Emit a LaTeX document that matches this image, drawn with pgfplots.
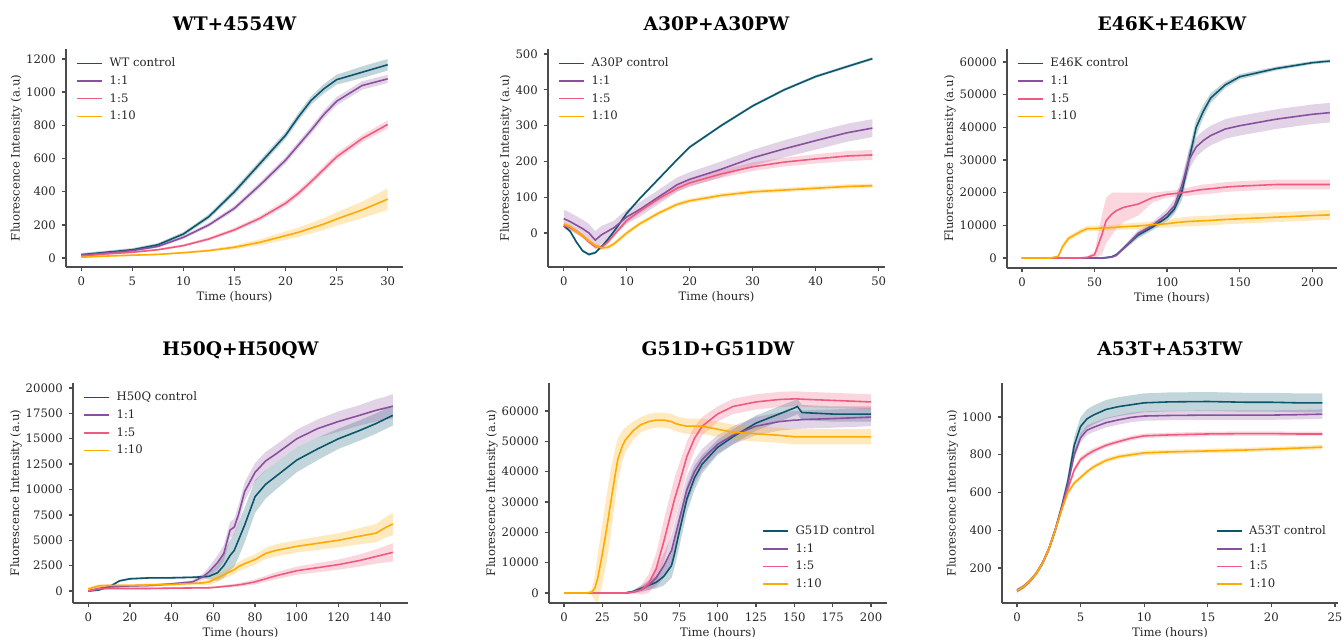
\documentclass[border=0pt]{standalone}
\usepackage{fontspec}
\setmainfont{DejaVu Serif}
\usepackage{pgfplots}
\pgfplotsset{compat=1.18}
\usepackage{pgfplotstable}
\usepgfplotslibrary{fillbetween}

\definecolor{cc}{HTML}{0B566C}
\definecolor{ca}{HTML}{8A4F9E}
\definecolor{cb}{HTML}{EE5A80}
\definecolor{cd}{HTML}{FFAA00}

% t, mean and half-width of the band for control (c), 1:1 (a), 1:5 (b), 1:10 (d)
\pgfplotstableread{
t c ce a ae b be d de
0 20 10 18 8 12 6 5 5
2.5 35 10 30 8 25 6 12 5
5 50 10 45 8 35 6 17 5
7.5 80 10 70 8 50 6 22 5
10 145 12 125 10 75 8 32 6
12.5 250 15 200 12 115 10 45 8
15 400 18 300 15 170 12 65 12
17.5 570 20 440 18 240 15 95 18
20 740 22 590 20 330 18 135 25
21.25 850 24 680 21 390 19 155 28
22.5 950 25 770 22 460 20 180 32
23.75 1020 28 865 24 535 21 205 36
25 1075 30 945 25 610 22 235 40
27.5 1120 35 1040 25 720 22 290 50
30 1165 35 1080 25 805 25 355 65
}\wt

\pgfplotstableread{
t c ce a ae b be d de
0 20 4 40 25 20 6 25 6
1 5 4 32 25 15 6 18 6
2 -25 4 22 25 5 6 5 6
3 -50 4 12 25 -8 6 -8 6
4 -60 4 0 25 -25 6 -22 6
5 -55 4 -20 25 -38 6 -35 6
6 -38 4 -5 25 -40 6 -42 6
7 -18 4 5 22 -25 6 -40 6
8 5 4 15 20 -5 6 -30 6
9 30 4 30 20 15 6 -15 6
10 55 4 45 20 35 6 0 6
12 95 4 65 20 60 7 25 6
15 150 4 100 20 95 8 55 6
18 205 4 135 20 125 9 80 6
20 240 4 150 20 140 10 90 6
25 300 4 178 22 165 11 105 6
30 355 4 210 22 185 12 115 6
35 400 4 235 24 198 12 120 6
40 437 4 258 25 207 13 125 6
45 465 4 280 25 215 14 130 6
49 487 4 293 25 218 14 132 6
}\apt

\pgfplotstableread{
t c ce a ae b be d de
0 0 300 0 300 0 300 0 300
20 0 300 0 300 0 300 0 300
25 0 300 0 300 0 300 500 500
28 0 300 0 300 0 300 3500 800
32 0 300 0 300 0 300 6000 800
36 0 300 0 300 0 300 7000 800
40 0 300 0 300 0 300 8000 800
45 0 300 0 300 200 300 9000 800
50 0 300 0 300 1000 1000 9000 800
55 0 300 0 300 7000 6000 9200 800
58 100 300 100 300 11500 7000 9200 800
62 400 300 300 300 13500 6500 9300 800
65 1000 400 800 400 14500 5500 9400 800
70 3000 600 3000 600 15500 4500 9600 900
80 7000 1000 7500 1000 16500 3500 9800 1000
90 9500 1000 10000 1000 18500 1500 10200 1000
100 12500 1200 13500 1500 19500 1000 10500 1200
105 15000 1500 16000 2000 19700 1000 10800 1300
110 20000 2500 22000 2500 20000 1200 11000 1400
115 30000 3000 30000 3000 20300 1300 11200 1500
120 40000 2500 34000 3000 20700 1400 11300 1500
125 45000 2000 36000 3000 21000 1500 11400 1500
130 49000 1500 37500 3000 21200 1500 11500 1500
140 53000 1000 39500 3000 21700 1500 11800 1500
150 55500 800 40500 3000 22000 1500 12000 1500
175 58000 600 42500 3000 22500 1500 12500 1500
200 59800 500 44000 3000 22500 1500 13000 1500
212 60300 500 44500 3000 22500 1500 13200 1500
}\ekt

\pgfplotstableread{
t c ce a ae b be d de
0 0 100 0 100 0 100 200 150
5 100 100 250 100 200 100 500 150
10 400 100 400 100 250 100 550 150
15 1000 100 450 100 250 100 550 150
20 1200 100 500 100 250 100 550 150
30 1300 100 550 100 250 100 600 150
40 1300 100 700 100 280 100 650 150
50 1350 100 900 150 300 100 750 150
55 1400 150 1400 300 300 100 800 200
58 1450 300 1900 500 320 100 900 300
62 1800 800 2800 700 380 100 1300 400
65 2500 1200 3700 800 450 120 1600 400
68 3500 1500 6000 800 500 150 1900 400
70 4000 1600 6300 800 550 150 2100 450
72 5000 1700 7500 900 600 180 2400 450
75 6500 1700 9800 900 700 200 2700 500
80 9300 1600 11700 900 900 250 3100 500
85 10500 1400 12800 900 1200 300 3700 550
90 11300 1300 13500 900 1500 350 4000 600
100 12900 1200 15000 900 2000 400 4400 600
110 14000 1100 16000 900 2300 450 4700 650
120 15000 1000 16700 1000 2600 500 5000 700
130 15800 1000 17300 1000 3000 600 5400 800
138 16500 1000 17800 1100 3400 700 5700 900
142 16900 1000 18000 1100 3600 800 6200 1000
146 17300 1000 18200 1200 3800 900 6600 1100
}\hqt

\pgfplotstableread{
t c ce a ae b be d de
0 0 300 0 300 0 300 0 300
15 0 300 0 300 0 300 0 300
18 0 300 0 300 0 300 300 1000
20 0 300 0 300 0 300 1500 4000
22 0 300 0 300 0 300 5000 8000
25 0 300 0 300 0 300 13000 10000
28 0 300 0 300 0 300 22000 11000
30 0 300 0 300 0 300 28500 11000
33 0 300 0 300 0 300 38000 9000
35 0 300 0 300 0 300 44000 7000
38 0 300 0 300 0 300 48500 5000
40 0 300 0 300 0 300 50500 4000
45 500 400 300 400 300 500 53500 3000
50 1500 800 1000 800 1000 1500 55500 2500
55 2500 1500 2500 1500 3000 3000 56500 2500
60 3500 2000 5000 3000 8000 5000 57000 2500
65 5500 3000 9000 4000 17000 7000 57000 2500
70 9000 4000 14000 5000 27000 7000 56500 2500
72 13000 4500 18000 5000 31000 7000 56000 2500
75 20000 5000 24000 5000 36000 6500 55500 2500
80 31000 4500 34000 4500 45000 5000 55000 2500
85 38000 4000 40000 4000 51000 4000 55000 2500
90 42500 3000 44000 3500 55000 3000 55000 2500
100 48000 2500 49000 3000 59000 2500 54000 2500
110 51500 2500 52000 3000 61500 2500 53000 2500
125 56000 2500 55000 3000 63000 2500 52500 2500
140 59000 2500 56500 3000 63800 2500 52000 2500
150 61000 2500 57000 3000 64000 2500 51500 2500
152 61500 2500 57000 3000 64000 2500 51500 2500
155 59500 2500 57200 3000 63900 2500 51500 2500
175 59000 2500 57500 3000 63500 2500 51500 2500
200 59000 2500 58000 3000 63000 2500 51500 2500
}\gdt

\pgfplotstableread{
t c ce a ae b be d de
0 80 10 80 10 80 10 80 10
0.5 100 10 100 10 100 10 100 10
1 130 10 130 10 130 10 130 10
1.5 170 10 170 10 170 10 170 10
2 225 12 225 12 225 12 225 12
2.5 300 15 300 15 300 12 300 12
3 400 20 400 18 400 12 400 12
3.5 520 25 515 20 510 12 505 12
4 660 35 645 22 620 15 600 12
4.5 850 45 800 25 720 15 650 12
5 950 50 890 25 775 15 680 12
5.5 990 50 930 25 800 15 710 12
6 1010 50 945 25 820 15 735 12
7 1040 50 970 25 850 12 770 12
8 1055 50 985 25 870 12 790 12
9 1065 50 998 25 888 12 800 12
10 1075 50 1005 25 900 12 810 12
12 1080 50 1008 25 905 12 815 12
15 1082 50 1010 25 910 12 820 12
18 1078 50 1010 25 912 12 825 12
20 1078 50 1010 25 912 12 830 12
22 1075 50 1012 25 910 12 835 12
24 1075 50 1015 25 910 12 840 12
}\att

% #1 table, #2 column, #3 colour, #4 panel id (keeps path names unique)
\newcommand{\band}[4]{%
  \addplot[name path=#4#2u, draw=none, forget plot] table[x=t, y expr=\thisrow{#2}+\thisrow{#2e}] {#1};
  \addplot[name path=#4#2l, draw=none, forget plot] table[x=t, y expr=\thisrow{#2}-\thisrow{#2e}] {#1};
  \addplot[fill=#3, fill opacity=0.25, draw=none, forget plot] fill between[of=#4#2u and #4#2l];
}
\newcommand{\panel}[3]{%
  \band{#1}{c}{cc}{#3}\band{#1}{a}{ca}{#3}\band{#1}{b}{cb}{#3}\band{#1}{d}{cd}{#3}
  \addplot[cc, line width=0.95pt] table[x=t, y=c] {#1}; \addlegendentry{#2 control}
  \addplot[ca, line width=0.95pt] table[x=t, y=a] {#1}; \addlegendentry{1:1}
  \addplot[cb, line width=0.95pt] table[x=t, y=b] {#1}; \addlegendentry{1:5}
  \addplot[cd, line width=0.95pt] table[x=t, y=d] {#1}; \addlegendentry{1:10}
}

\pgfplotsset{
  kin/.style={
    scale only axis, anchor=south west,
    axis lines=left, axis line style={-, line width=0.8pt, black!70},
    tick align=outside, major tick length=2.6pt,
    tick style={line width=0.8pt, black!70},
    ticklabel style={font=\fontsize{7}{8}\selectfont, text=black!85},
    /pgf/number format/1000 sep={},
    /pgf/number format/assume math mode=true,
    scaled ticks=false,
    xlabel={Time (hours)}, ylabel={Fluorescence Intensity (a.u)},
    label style={font=\fontsize{7}{8}\selectfont, text=black!85},
    xlabel style={yshift=3.8pt}, ylabel style={yshift=-4.5pt},
    title style={font=\fontsize{11.2}{13}\selectfont\bfseries, text depth=0pt},
    legend cell align=left,
    legend image code/.code={\draw[##1] (0pt,0pt) -- (15pt,0pt);},
    legend style={draw=none, fill=none, inner sep=0pt, column sep=3pt,
      font=\fontsize{7}{8}\selectfont, text=black!85, row sep=1.6pt,
      nodes={inner sep=1pt, text height=5.5pt, text depth=1.5pt}},
  },
  nwleg/.style={legend style={at={(0.03,0.97)}, anchor=north west}},
  seleg/.style={legend style={at={(0.97,0.05)}, anchor=south east}},
  toprow/.style={title style={yshift=1.8pt}},
  botrow/.style={title style={yshift=7pt}},
}

\begin{document}
\begin{tikzpicture}

\begin{axis}[kin, toprow, nwleg, at={(39.6pt,222pt)}, width=202.2pt, height=130.8pt,
  xmin=-1.5, xmax=31.5, ymin=-54, ymax=1260,
  xtick={0,5,...,30}, ytick={0,200,...,1200}, title={WT+4554W}]
\panel{\wt}{WT}{p}
\end{axis}

\begin{axis}[kin, toprow, nwleg, at={(328.8pt,222pt)}, width=202.2pt, height=130.8pt,
  xmin=-2.5, xmax=51, ymin=-95, ymax=514,
  xtick={0,10,...,50}, ytick={0,100,...,500}, title={A30P+A30PW}]
\panel{\apt}{A30P}{q}
\end{axis}

\begin{axis}[kin, toprow, nwleg, at={(604.2pt,221.4pt)}, width=198pt, height=131.4pt,
  xmin=-10.3, xmax=217, ymin=-3060, ymax=64000,
  xtick={0,50,...,200}, ytick={0,10000,...,60000}, title={E46K+E46KW}]
\panel{\ekt}{E46K}{r}
\end{axis}

\begin{axis}[kin, botrow, nwleg, at={(43.8pt,20.4pt)}, width=201pt, height=132pt,
  xmin=-7.3, xmax=153.3, ymin=-1182, ymax=20490,
  xtick={0,20,...,140}, ytick={0,2500,...,20000}, title={H50Q+H50QW}]
\panel{\hqt}{H50Q}{s}
\end{axis}

\begin{axis}[kin, botrow, seleg, at={(329.4pt,20.4pt)}, width=202.8pt, height=132pt,
  xmin=-9.8, xmax=210.4, ymin=-3300, ymax=69240,
  xtick={0,25,...,200}, ytick={0,10000,...,60000}, title={G51D+G51DW}]
\panel{\gdt}{G51D}{v}
\end{axis}

\begin{axis}[kin, botrow, seleg, at={(601.2pt,20.4pt)}, width=201.6pt, height=132pt,
  xmin=-1.18, xmax=25.24, ymin=14.6, ymax=1180,
  xtick={0,5,...,25}, ytick={200,400,...,1000}, title={A53T+A53TW}]
\panel{\att}{A53T}{w}
\end{axis}

\pgfresetboundingbox
\path[use as bounding box] (0pt,0pt) rectangle (805.2pt,382.2pt);
\end{tikzpicture}
\end{document}
